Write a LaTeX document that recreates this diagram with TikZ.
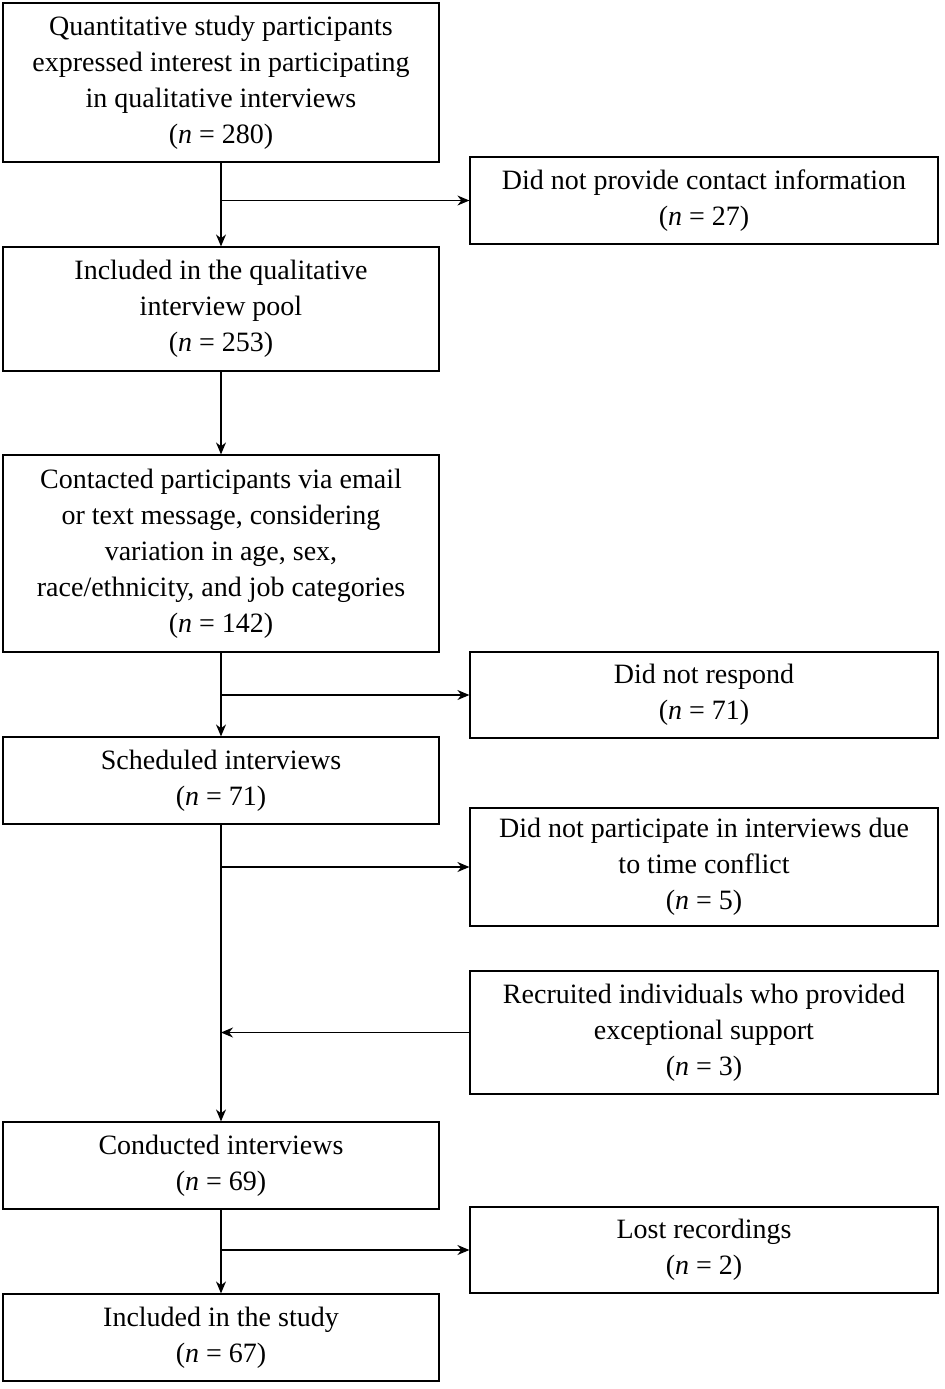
\documentclass[tikz,border=0pt]{standalone}
\usepackage{fontspec}
\setmainfont{Liberation Serif}
\usetikzlibrary{arrows.meta,positioning}

\begin{document}
\begin{tikzpicture}[x=0.5pt,y=-0.5pt,
  box/.style={draw, line width=0.6pt, align=center, font=\fontsize{14}{18}\selectfont, inner sep=2pt},
  main/.style={box, minimum width=218pt},
  side/.style={box, minimum width=234pt},
  arr/.style={line width=0.6pt, -{Stealth[length=6pt,width=5pt]}}]
\useasboundingbox (0,0) rectangle (945,1389);

% left column
\node[main, minimum height=79.5pt] (pool0) at (221,82.5) {Quantitative study participants\\expressed interest in participating\\in qualitative interviews\\(\textit{n} = 280)};
\node[main, minimum height=62pt] (pool) at (221,309) {Included in the qualitative\\interview pool\\(\textit{n} = 253)};
\node[main, minimum height=98.5pt] (contact) at (221,553.5) {Contacted participants via email\\or text message, considering\\variation in age, sex,\\race/ethnicity, and job categories\\(\textit{n} = 142)};
\node[main, minimum height=43.5pt] (sched) at (221,780.5) {Scheduled interviews\\(\textit{n} = 71)};
\node[main, minimum height=43.5pt] (cond) at (221,1165.5) {Conducted interviews\\(\textit{n} = 69)};
\node[main, minimum height=43.5pt] (incl) at (221,1337.5) {Included in the study\\(\textit{n} = 67)};

% right column
\node[side, minimum height=43.5pt] (nocontact) at (704,200.5) {Did not provide contact information\\(\textit{n} = 27)};
\node[side, minimum height=43pt] (noresp) at (704,695) {Did not respond\\(\textit{n} = 71)};
\node[side, minimum height=59pt] (conflict) at (704,867) {Did not participate in interviews due\\to time conflict\\(\textit{n} = 5)};
\node[side, minimum height=61.5pt] (extra) at (704,1032.5) {Recruited individuals who provided\\exceptional support\\(\textit{n} = 3)};
\node[side, minimum height=43pt] (lost) at (704,1250) {Lost recordings\\(\textit{n} = 2)};

% main flow
\draw[arr] (pool0) -- (pool);
\draw[arr] (pool) -- (contact);
\draw[arr] (contact) -- (sched);
\draw[arr] (sched) -- (cond);
\draw[arr] (cond) -- (incl);

% branches
\draw[arr] (pool0.south |- nocontact.west) -- (nocontact.west);
\draw[arr] (contact.south |- noresp.west) -- (noresp.west);
\draw[arr] (sched.south |- conflict.west) -- (conflict.west);
\draw[arr] (extra.west) -- (sched.south |- extra.west);
\draw[arr] (cond.south |- lost.west) -- (lost.west);
\end{tikzpicture}
\end{document}
